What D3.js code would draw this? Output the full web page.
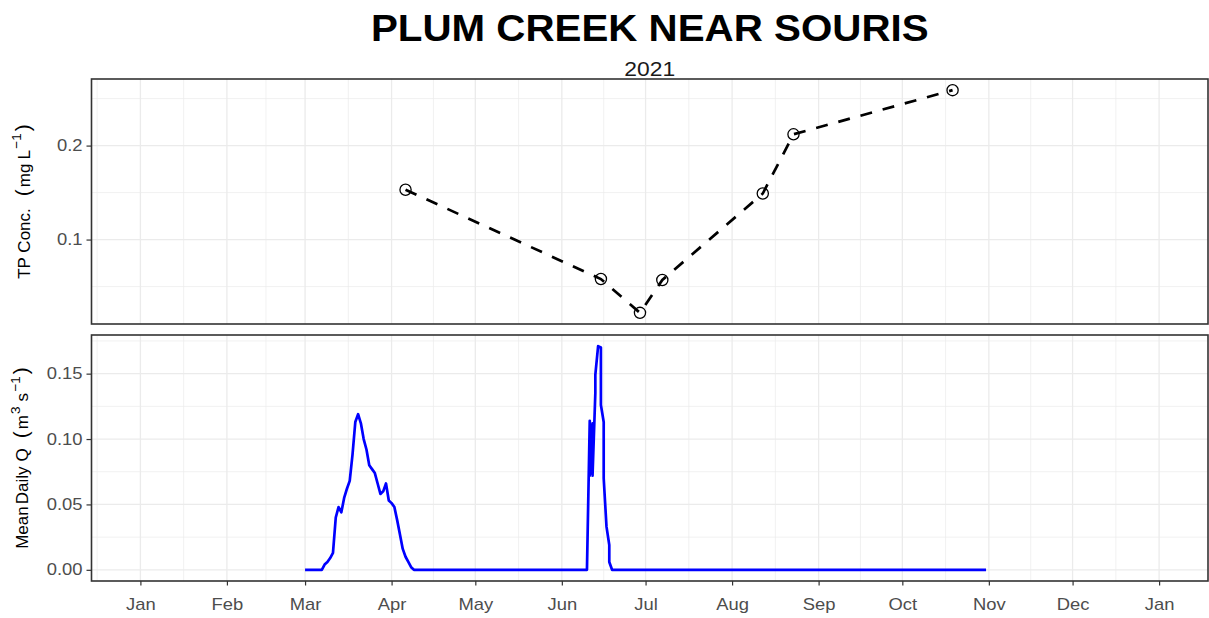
<!DOCTYPE html>
<html>
<head>
<meta charset="utf-8">
<script src="https://cdn.jsdelivr.net/npm/d3@7"></script>
<style>
  body { margin: 0; background: #fff; }
  text { font-family: "Liberation Sans", Arial, sans-serif; }
</style>
</head>
<body>
<svg id="chart" width="1209" height="618"></svg>
<script>
// ---------------- DATA ----------------
const chartTitle = "PLUM CREEK NEAR SOURIS";
const chartSubtitle = "2021";

const monthTickDates = ["2021-01-01","2021-02-01","2021-03-01","2021-04-01","2021-05-01","2021-06-01",
  "2021-07-01","2021-08-01","2021-09-01","2021-10-01","2021-11-01","2021-12-01","2022-01-01"];
const monthTickLabels = ["Jan","Feb","Mar","Apr","May","Jun","Jul","Aug","Sep","Oct","Nov","Dec","Jan"];
const monthMinorAnchor = "2020-12-01"; // previous month, for the first minor grid line

const tpDates  = ["2021-04-06","2021-06-15","2021-06-29","2021-07-07","2021-08-12","2021-08-23","2021-10-19"];
const tpValues = [0.153, 0.058, 0.022, 0.057, 0.149, 0.212, 0.259];

const tpTicks = [0.1, 0.2];
const tpTickLabels = ["0.1", "0.2"];
const tpMinorTicks = [0.05, 0.15, 0.25];

const flowDates = [
  "2021-03-01","2021-03-07","2021-03-08","2021-03-09","2021-03-10","2021-03-11","2021-03-12",
  "2021-03-13","2021-03-14","2021-03-15","2021-03-16","2021-03-17","2021-03-18","2021-03-19",
  "2021-03-20","2021-03-21","2021-03-22","2021-03-23","2021-03-24","2021-03-25","2021-03-26",
  "2021-03-27","2021-03-28","2021-03-29","2021-03-30","2021-03-31","2021-04-01","2021-04-02",
  "2021-04-03","2021-04-04","2021-04-05","2021-04-06","2021-04-07","2021-04-08","2021-04-09",
  "2021-06-10","2021-06-11","2021-06-11","2021-06-12","2021-06-12","2021-06-13","2021-06-13",
  "2021-06-14","2021-06-15","2021-06-15","2021-06-16","2021-06-16","2021-06-17","2021-06-18",
  "2021-06-18","2021-06-19","2021-10-31"];
const flowValues = [
  0, 0, 0.004, 0.006, 0.009, 0.013, 0.040,
  0.048, 0.044, 0.055, 0.062, 0.068, 0.088, 0.113,
  0.119, 0.112, 0.100, 0.092, 0.080, 0.077, 0.074,
  0.066, 0.058, 0.060, 0.066, 0.053, 0.051, 0.048,
  0.038, 0.027, 0.016, 0.010, 0.006, 0.002, 0,
  0, 0.114, 0.072, 0.112, 0.072, 0.135, 0.149,
  0.171, 0.170, 0.126, 0.113, 0.070, 0.033, 0.019,
  0.006, 0, 0];

const qTicks = [0, 0.05, 0.10, 0.15];
const qTickLabels = ["0.00", "0.05", "0.10", "0.15"];
const qMinorTicks = [0.025, 0.075, 0.125, 0.175];

// ---------------- LAYOUT ----------------
const L = { left: 91.5, right: 1208, top1: 79, bot1: 324, top2: 335, bot2: 581 };
const parse = d3.utcParse("%Y-%m-%d");
const svg = d3.select("#chart");

const tickDates = monthTickDates.map(parse);
const xExpand = 0.048;
const t0 = +tickDates[0], t1 = +tickDates[tickDates.length - 1];
const x = d3.scaleUtc()
  .domain([new Date(t0 - (t1 - t0) * xExpand), new Date(t1 + (t1 - t0) * xExpand)])
  .range([L.left, L.right]);

function expanded(lo, hi, f) { const r = hi - lo; return [lo - r * f, hi + r * f]; }
const yTP = d3.scaleLinear().domain(expanded(d3.min(tpValues), d3.max(tpValues), 0.05)).range([L.bot1, L.top1]);
const yQ  = d3.scaleLinear().domain(expanded(d3.min(flowValues), d3.max(flowValues), 0.05)).range([L.bot2, L.top2]);

// minor x grid: midpoints between consecutive month breaks
const allMonths = [parse(monthMinorAnchor), ...tickDates];
const xMinor = d3.pairs(allMonths).map(([a, b]) => new Date((+a + +b) / 2));

const gridColor = "#ebebeb";
function drawPanel(yScale, top, bot, majors, minors) {
  const g = svg.append("g");
  g.append("rect").attr("x", L.left).attr("y", top).attr("width", L.right - L.left)
    .attr("height", bot - top).attr("fill", "#fff");
  g.selectAll(".ymin").data(minors).join("line")
    .attr("x1", L.left).attr("x2", L.right).attr("y1", d => yScale(d)).attr("y2", d => yScale(d))
    .attr("stroke", gridColor).attr("stroke-width", 0.7);
  g.selectAll(".xmin").data(xMinor).join("line")
    .attr("x1", d => x(d)).attr("x2", d => x(d)).attr("y1", top).attr("y2", bot)
    .attr("stroke", gridColor).attr("stroke-width", 0.7);
  g.selectAll(".ymaj").data(majors).join("line")
    .attr("x1", L.left).attr("x2", L.right).attr("y1", d => yScale(d)).attr("y2", d => yScale(d))
    .attr("stroke", gridColor).attr("stroke-width", 1.3);
  g.selectAll(".xmaj").data(tickDates).join("line")
    .attr("x1", d => x(d)).attr("x2", d => x(d)).attr("y1", top).attr("y2", bot)
    .attr("stroke", gridColor).attr("stroke-width", 1.3);
  return g;
}
function drawBorder(top, bot) {
  svg.append("rect").attr("x", L.left).attr("y", top).attr("width", L.right - L.left)
    .attr("height", bot - top).attr("fill", "none").attr("stroke", "#333").attr("stroke-width", 1.6);
}

drawPanel(yTP, L.top1, L.bot1, tpTicks, tpMinorTicks);
drawPanel(yQ, L.top2, L.bot2, qTicks, qMinorTicks);

// clip paths
svg.append("clipPath").attr("id", "clip1").append("rect")
  .attr("x", L.left).attr("y", L.top1).attr("width", L.right - L.left).attr("height", L.bot1 - L.top1);
svg.append("clipPath").attr("id", "clip2").append("rect")
  .attr("x", L.left).attr("y", L.top2).attr("width", L.right - L.left).attr("height", L.bot2 - L.top2);

// TP series
const tpData = tpDates.map((d, i) => ({ date: parse(d), v: tpValues[i] }));
const g1 = svg.append("g").attr("clip-path", "url(#clip1)");
g1.append("path").datum(tpData)
  .attr("d", d3.line().x(d => x(d.date)).y(d => yTP(d.v)))
  .attr("fill", "none").attr("stroke", "#000").attr("stroke-width", 2.7)
  .attr("stroke-dasharray", "12,11");
g1.selectAll("circle").data(tpData).join("circle")
  .attr("cx", d => x(d.date)).attr("cy", d => yTP(d.v)).attr("r", 5.6)
  .attr("fill", "none").attr("stroke", "#000").attr("stroke-width", 1.3);

// Flow series
const qData = flowDates.map((d, i) => ({ date: parse(d), v: flowValues[i] }));
const g2 = svg.append("g").attr("clip-path", "url(#clip2)");
g2.append("path").datum(qData)
  .attr("d", d3.line().x(d => x(d.date)).y(d => yQ(d.v)))
  .attr("fill", "none").attr("stroke", "#0000ff").attr("stroke-width", 2.7)
  .attr("stroke-linejoin", "round");

drawBorder(L.top1, L.bot1);
drawBorder(L.top2, L.bot2);

// ---------------- AXES ----------------
const tickFont = 16, tickStretch = 1.15, tickColor = "#4d4d4d";
function styleAxis(g) {
  g.select(".domain").remove();
  g.selectAll(".tick line").attr("stroke", "#333").attr("stroke-width", 1.2);
  g.selectAll(".tick text").attr("fill", tickColor).style("font-size", tickFont + "px")
    .style("font-family", '"Liberation Sans", Arial, sans-serif');
}
const xAxis = d3.axisBottom(x).tickValues(tickDates)
  .tickFormat((d, i) => monthTickLabels[i]).tickSize(4.5).tickPadding(13.5).tickSizeOuter(0);
const gx = svg.append("g").attr("transform", `translate(0,${L.bot2})`).call(xAxis);
styleAxis(gx);
gx.selectAll(".tick text").attr("transform", `scale(${tickStretch},1)`);

function leftAxis(yScale, ticks, labels) {
  const ax = d3.axisLeft(yScale).tickValues(ticks).tickFormat((d, i) => labels[i])
    .tickSize(5).tickPadding(4).tickSizeOuter(0);
  const g = svg.append("g").attr("transform", `translate(${L.left},0)`).call(ax);
  styleAxis(g);
  g.selectAll(".tick text").attr("x", -9 / tickStretch).attr("transform", `scale(${tickStretch},1)`);
}
leftAxis(yTP, tpTicks, tpTickLabels);
leftAxis(yQ, qTicks, qTickLabels);

// ---------------- TITLES ----------------
const cx = (L.left + L.right) / 2;
svg.append("text").attr("transform", `translate(${cx},40.5) scale(1.09,1)`)
  .attr("text-anchor", "middle").style("font-size", "37px").style("font-weight", "bold")
  .attr("fill", "#000").text(chartTitle);
svg.append("text").attr("transform", `translate(${cx},76) scale(1.09,1)`)
  .attr("text-anchor", "middle").style("font-size", "21px").attr("fill", "#1a1a1a").text(chartSubtitle);

// Y axis titles (plotmath-like: big parentheses, raised superscripts)
const yTitleFont = 17, parenFont = 21, supFont = 13.5;
function yTitle(xpos, ycenter, parts) {
  const t = svg.append("text").attr("transform", `translate(${xpos},${ycenter}) rotate(-90)`)
    .attr("text-anchor", "middle").style("font-size", yTitleFont + "px").attr("fill", "#000");
  let shift = 0;
  parts.forEach(p => {
    const ts = t.append("tspan").text(p.t);
    const target = p.sup ? -8.5 : 0;
    if (target !== shift) { ts.attr("dy", target - shift); shift = target; }
    if (p.dx) ts.attr("dx", p.dx);
    if (p.size) ts.style("font-size", p.size + "px");
  });
}
yTitle(29.5, (L.top1 + L.bot1) / 2, [
  { t: "TP Conc." }, { t: "(", size: parenFont, dx: 12 }, { t: "mg", dx: 2 }, { t: "L", dx: 4 },
  { t: "\u22121", sup: true, size: supFont, dx: 1.5 }, { t: ")", size: parenFont, dx: 2 }
]);
yTitle(28, (L.top2 + L.bot2) / 2, [
  { t: "Mean" }, { t: "Daily", dx: 2 }, { t: "Q", dx: 5 }, { t: "(", size: parenFont, dx: 10 },
  { t: "m", dx: 2 }, { t: "3", sup: true, size: supFont, dx: 1 }, { t: "s", dx: 5 },
  { t: "\u22121", sup: true, size: supFont, dx: 1.5 }, { t: ")", size: parenFont, dx: 2 }
]);
</script>
</body>
</html>
